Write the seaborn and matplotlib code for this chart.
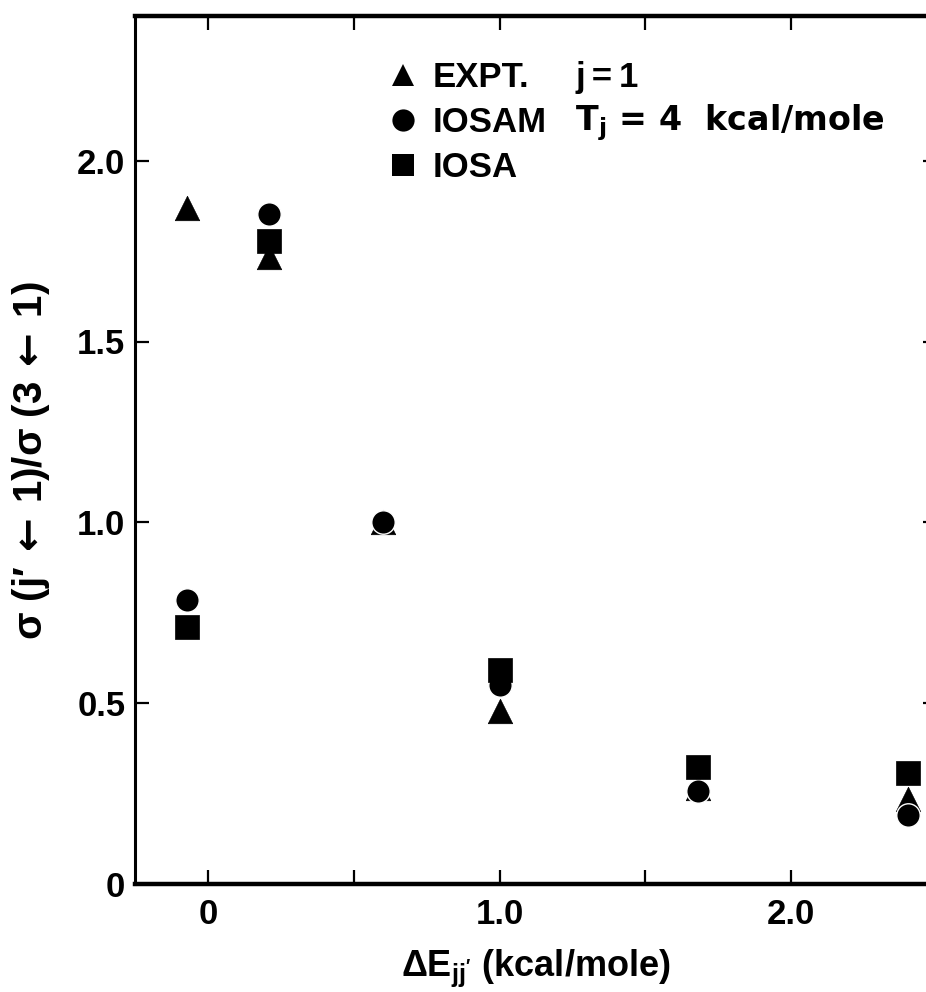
import numpy as np
import pandas as pd
import matplotlib
matplotlib.use("Agg")
import matplotlib.pyplot as plt
from matplotlib.lines import Line2D
import seaborn as sns

# Energy defect of each final level (kcal/mole)
delta_e = [-0.07, 0.21, 0.60, 1.00, 1.68, 2.40]

# Cross-section ratios sigma(j'<-1)/sigma(3<-1)
expt = [1.87, 1.735, 1.00, 0.478, 0.265, 0.235]
iosam = [0.785, 1.853, 1.00, 0.55, 0.258, 0.192]
iosa = [0.71, 1.777, np.nan, 0.592, 0.324, 0.308]

series_names = ["EXPT.", "IOSAM", "IOSA"]
series_markers = {"EXPT.": "^", "IOSAM": "o", "IOSA": "s"}

x_ticks = [0.0, 0.5, 1.0, 1.5, 2.0]
x_tick_labels = ["0", "", "1.0", "", "2.0"]
y_ticks = [0.0, 0.5, 1.0, 1.5, 2.0]
y_tick_labels = ["0", "0.5", "1.0", "1.5", "2.0"]

df = pd.DataFrame({
    "dE": delta_e * 3,
    "ratio": expt + iosam + iosa,
    "method": sum([[n] * len(delta_e) for n in series_names], []),
}).dropna()

sns.set_theme(style="ticks")
plt.rcParams["font.family"] = ["Liberation Sans", "DejaVu Sans"]
plt.rcParams["font.weight"] = "bold"
plt.rcParams["text.color"] = "black"
plt.rcParams["axes.labelcolor"] = "black"
plt.rcParams["axes.labelweight"] = "bold"
plt.rcParams["mathtext.fontset"] = "custom"
plt.rcParams["mathtext.rm"] = "Liberation Sans:bold"
plt.rcParams["mathtext.it"] = "Liberation Sans:bold:italic"
plt.rcParams["mathtext.bf"] = "Liberation Sans:bold"
plt.rcParams["mathtext.sf"] = "DejaVu Sans:bold"

FS = 25

fig = plt.figure(figsize=(9.26, 9.92), dpi=100)
ax = fig.add_axes([135 / 926, 108 / 992, (937 - 135) / 926, 868 / 992])

styles = {
    "EXPT.": dict(s=310, edgecolor="black", linewidth=0.5, zorder=3),
    "IOSAM": dict(s=285, edgecolor="white", linewidth=1.0, zorder=4),
    "IOSA": dict(s=290, edgecolor="black", linewidth=0.5, zorder=5),
}
for name in series_names:
    sub = df[df["method"] == name]
    sns.scatterplot(data=sub, x="dE", y="ratio", marker=series_markers[name],
                    color="black", ax=ax, legend=False, **styles[name])

ax.set_xlim(-0.25, 2.5)
ax.set_ylim(0, 2.4)
ax.set_xticks(x_ticks)
ax.set_xticklabels(x_tick_labels)
ax.set_yticks(y_ticks)
ax.set_yticklabels(y_tick_labels)

ax.tick_params(axis="both", direction="in", length=10, width=1.6,
               labelsize=FS, color="black", labelcolor="black")
ax.tick_params(axis="x", top=True, pad=10)
ax.tick_params(axis="y", right=True, pad=7)
for lab in ax.get_xticklabels() + ax.get_yticklabels():
    lab.set_fontweight("bold")

for side in ["top", "bottom"]:
    ax.spines[side].set_linewidth(3.2)
for side in ["left", "right"]:
    ax.spines[side].set_linewidth(2.2)
for sp in ax.spines.values():
    sp.set_color("black")

ax.set_xlabel(r"ΔE$_{\mathregular{jj'}}$ (kcal/mole)", fontsize=FS + 1,
              labelpad=12)
ax.set_ylabel("σ (j′\u2009" + r"$\mathsf{\leftarrow}$" + "\u20091)/σ (3\u2009"
              + r"$\mathsf{\leftarrow}$" + "\u20091)", fontsize=FS + 4)
ax.yaxis.set_label_coords(-0.104, 0.488)

handles = [
    Line2D([], [], linestyle="none", marker=series_markers[n], color="black",
           markersize=16, markeredgewidth=0)
    for n in series_names
]
leg = ax.legend(handles, series_names, loc="upper left",
                bbox_to_anchor=(0.30, 0.964), frameon=False,
                prop={"size": FS, "weight": "bold"},
                handlelength=0.8, handletextpad=0.45, labelspacing=0.35,
                borderaxespad=0)

ax.text(0.549, 0.929, "j\u2009=\u20091", transform=ax.transAxes, fontsize=FS,
        va="center", ha="left", fontweight="bold")
ax.text(0.549, 0.877, r"T$_{\mathregular{j}}$ = 4  kcal/mole",
        transform=ax.transAxes, fontsize=FS - 1, va="center", ha="left",
        fontweight="bold", family=["DejaVu Sans"])

fig.savefig("out.png", dpi=100, facecolor="white")
